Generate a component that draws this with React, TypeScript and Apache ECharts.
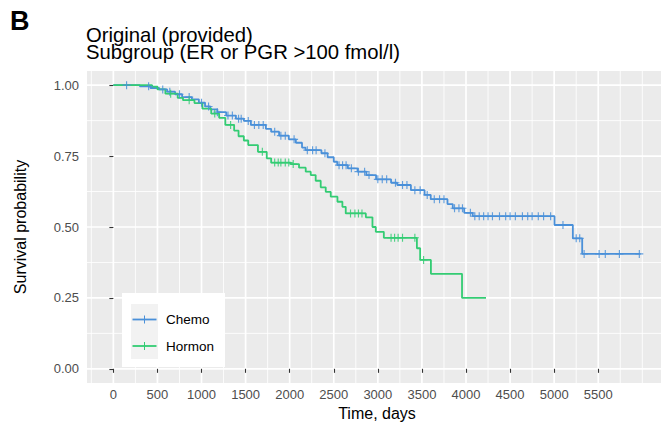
import React, { useEffect, useRef } from "react";
import * as echarts from "echarts";

const FONT = "'Liberation Sans', Arial, Helvetica, sans-serif";

const groupNames = ["Chemo", "Hormon"];
const groupColors = ["#4A90D9", "#33CC73"];

// Kaplan-Meier steps: survival value holds from each time onward
const chemoTime = [0, 300, 420, 520, 610, 700, 780, 890, 970, 1040, 1100, 1180, 1280, 1390, 1480, 1560, 1730, 1790, 1880, 1990, 2070, 2140, 2180, 2360, 2430, 2500, 2540, 2660, 2770, 2870, 2980, 3150, 3220, 3375, 3530, 3600, 3790, 3850, 3980, 4076, 5004, 5212, 5318, 5981];
const chemoSurv = [1.0, 0.996, 0.99, 0.985, 0.977, 0.968, 0.958, 0.95, 0.938, 0.925, 0.915, 0.905, 0.893, 0.882, 0.874, 0.86, 0.846, 0.836, 0.822, 0.809, 0.797, 0.78, 0.771, 0.76, 0.746, 0.73, 0.718, 0.707, 0.695, 0.683, 0.668, 0.656, 0.648, 0.63, 0.613, 0.598, 0.581, 0.566, 0.55, 0.538, 0.507, 0.46, 0.405, 0.405];
const chemoCensor = [150, 400, 560, 640, 750, 860, 1000, 1080, 1180, 1300, 1350, 1420, 1450, 1530, 1600, 1650, 1700, 1830, 1900, 1950, 2050, 2200, 2260, 2300, 2400, 2560, 2600, 2640, 2700, 2780, 2850, 2900, 3000, 3050, 3100, 3200, 3280, 3330, 3420, 3480, 3560, 3640, 3700, 3750, 3870, 3920, 3960, 4050, 4100, 4150, 4200, 4250, 4300, 4380, 4450, 4500, 4560, 4640, 4700, 4750, 4820, 4880, 4960, 5100, 5250, 5290, 5340, 5510, 5580, 5740, 5966];

const hormonTime = [0, 440, 500, 590, 730, 790, 920, 1010, 1110, 1200, 1270, 1370, 1420, 1480, 1530, 1640, 1740, 1790, 2011, 2106, 2182, 2239, 2295, 2352, 2409, 2466, 2542, 2598, 2636, 2864, 2939, 2977, 3068, 3443, 3480, 3602, 3955, 4227];
const hormonSurv = [1.0, 0.995, 0.985, 0.97, 0.955, 0.947, 0.937, 0.917, 0.9, 0.885, 0.86, 0.84, 0.82, 0.805, 0.789, 0.765, 0.742, 0.727, 0.722, 0.709, 0.695, 0.683, 0.663, 0.64, 0.624, 0.607, 0.589, 0.571, 0.548, 0.534, 0.5, 0.483, 0.462, 0.425, 0.384, 0.335, 0.25, 0.25];
const hormonCensor = [650, 860, 1150, 1330, 1690, 1830, 1870, 1900, 1950, 1990, 2040, 2690, 2740, 2780, 2820, 3150, 3190, 3230, 3280, 3420, 3519];

const xTicks = [0, 500, 1000, 1500, 2000, 2500, 3000, 3500, 4000, 4500, 5000, 5500];
const xMinorTicks = [-250, 250, 750, 1250, 1750, 2250, 2750, 3250, 3750, 4250, 4750, 5250, 5750, 6000];
const yTicks = [0, 0.25, 0.5, 0.75, 1.0];
const yMinorTicks = [0.125, 0.375, 0.625, 0.875];

const X_MIN = -299;
const X_MAX = 6280;
const Y_MIN = -0.05;
const Y_MAX = 1.05;

const plusPath = "path://M6,0H8V6H14V8H8V14H6V8H0V6H6Z";

function survAt(times: number[], surv: number[], t: number) {
  let v = surv[0];
  for (let i = 0; i < times.length; i++) {
    if (times[i] <= t) v = surv[i];
  }
  return v;
}

function buildOption() {
  const curves = [
    { time: chemoTime, surv: chemoSurv, censor: chemoCensor },
    { time: hormonTime, surv: hormonSurv, censor: hormonCensor },
  ];

  // panel background + grid lines: [kind, value]
  // kind 0 = background, 1 = x major, 2 = x minor, 3 = y major, 4 = y minor
  const panelData: number[][] = [[0, 0]];
  xMinorTicks.forEach((v) => panelData.push([2, v]));
  yMinorTicks.forEach((v) => panelData.push([4, v]));
  xTicks.forEach((v) => panelData.push([1, v]));
  yTicks.forEach((v) => panelData.push([3, v]));

  const panelSeries = {
    type: "custom",
    name: "panel",
    silent: true,
    xAxisIndex: 0,
    yAxisIndex: 0,
    z: 0,
    clip: false,
    encode: { x: -1, y: -1 },
    data: panelData,
    renderItem: (_params: any, api: any) => {
      const kind = api.value(0);
      const v = api.value(1);
      if (kind === 0) {
        const p1 = api.coord([X_MIN, Y_MAX]);
        const p2 = api.coord([X_MAX, Y_MIN]);
        return {
          type: "rect",
          shape: { x: p1[0], y: p1[1], width: p2[0] - p1[0], height: p2[1] - p1[1] },
          style: { fill: "#EBEBEB" },
        };
      }
      const w = kind === 1 || kind === 3 ? 1.7 : 0.85;
      if (kind === 1 || kind === 2) {
        const a = api.coord([v, Y_MIN]);
        const b = api.coord([v, Y_MAX]);
        return { type: "line", shape: { x1: a[0], y1: a[1], x2: b[0], y2: b[1] }, style: { stroke: "#FFFFFF", lineWidth: w } };
      }
      const a = api.coord([X_MIN, v]);
      const b = api.coord([X_MAX, v]);
      return { type: "line", shape: { x1: a[0], y1: a[1], x2: b[0], y2: b[1] }, style: { stroke: "#FFFFFF", lineWidth: w } };
    },
  };

  const lineSeries = curves.map((c, i) => ({
    type: "line",
    name: groupNames[i],
    step: "end",
    showSymbol: false,
    silent: true,
    xAxisIndex: 0,
    yAxisIndex: 0,
    lineStyle: { color: groupColors[i], width: 1.8 },
    itemStyle: { color: groupColors[i] },
    data: c.time.map((t, k) => [t, c.surv[k]]),
    z: 3,
  }));

  const censorSeries = curves.map((c, i) => ({
    type: "scatter",
    name: groupNames[i] + " censor",
    silent: true,
    xAxisIndex: 0,
    yAxisIndex: 0,
    symbol: plusPath,
    symbolSize: 8,
    itemStyle: { color: groupColors[i], opacity: 0.85 },
    data: c.censor.map((t) => [t, survAt(c.time, c.surv, t)]),
    z: 4,
  }));

  const tickColor = "#333333";
  const labelColor = "#4D4D4D";

  const legendElements: any[] = [
    { type: "rect", z: 10, shape: { x: 122, y: 293, width: 103, height: 74 }, style: { fill: "#FFFFFF" } },
    { type: "rect", z: 11, shape: { x: 131, y: 304, width: 27, height: 55 }, style: { fill: "#F2F2F2" } },
  ];
  groupNames.forEach((name, i) => {
    const y = 319.5 + i * 26.5;
    legendElements.push(
      { type: "line", z: 12, shape: { x1: 132.5, y1: y, x2: 156.5, y2: y }, style: { stroke: groupColors[i], lineWidth: 1.8 } },
      { type: "line", z: 12, shape: { x1: 144.5, y1: y - 4, x2: 144.5, y2: y + 4 }, style: { stroke: groupColors[i], lineWidth: 1 } },
      {
        type: "text",
        z: 12,
        x: 166,
        y: y,
        style: { text: name, fill: "#000000", font: `13.5px ${FONT}`, textAlign: "left", textVerticalAlign: "middle" },
      }
    );
  });

  return {
    animation: false,
    backgroundColor: "#FFFFFF",
    legend: { show: false },
    title: [
      {
        text: "B",
        left: 5,
        top: 2,
        textStyle: { fontFamily: FONT, fontSize: 27, fontWeight: "bold", color: "#000000" },
      },
      {
        text: "Original (provided)\nSubgroup (ER or PGR >100 fmol/l)",
        left: 81,
        top: 21,
        textStyle: { fontFamily: FONT, fontSize: 20.3, fontWeight: "normal", color: "#000000", lineHeight: 17.5 },
      },
    ],
    grid: {
      left: 87,
      top: 71,
      width: 580,
      height: 312,
      show: false,
      containLabel: false,
      outerBoundsMode: "none",
    },
    xAxis: [
      {
        type: "value",
        min: X_MIN,
        max: X_MAX,
        name: "Time, days",
        nameLocation: "middle",
        nameGap: 21,
        nameTextStyle: { fontFamily: FONT, fontSize: 16, color: "#000000" },
        axisLine: { show: false },
        axisTick: { show: true, length: 4, customValues: xTicks, lineStyle: { color: tickColor, width: 1.1 } },
        axisLabel: {
          show: true,
          customValues: xTicks,
          margin: 5,
          color: labelColor,
          fontFamily: FONT,
          fontSize: 13,
          formatter: (v: number) => String(v),
        },
        splitLine: { show: false },
      },
    ],
    yAxis: [
      {
        type: "value",
        min: Y_MIN,
        max: Y_MAX,
        name: "Survival probability",
        nameLocation: "middle",
        nameGap: 59,
        nameTextStyle: { fontFamily: FONT, fontSize: 16, color: "#000000" },
        axisLine: { show: false },
        axisTick: { show: true, length: 4, customValues: yTicks, lineStyle: { color: tickColor, width: 1.1 } },
        axisLabel: {
          show: true,
          customValues: yTicks,
          margin: 8,
          color: labelColor,
          fontFamily: FONT,
          fontSize: 13,
          formatter: (v: number) => v.toFixed(2),
        },
        splitLine: { show: false },
      },
    ],
    graphic: legendElements,
    series: [panelSeries, ...lineSeries, ...censorSeries],
  };
}

export default function App() {
  const ref = useRef<HTMLDivElement>(null);
  useEffect(() => {
    if (!ref.current) return;
    const chart = echarts.init(ref.current, null, { renderer: "svg" });
    chart.setOption(buildOption() as any);
    return () => chart.dispose();
  }, []);
  return (
    <div
      ref={ref}
      style={{ width: 661, height: 422, position: "absolute", left: 0, top: 0, background: "#FFFFFF" }}
    />
  );
}
